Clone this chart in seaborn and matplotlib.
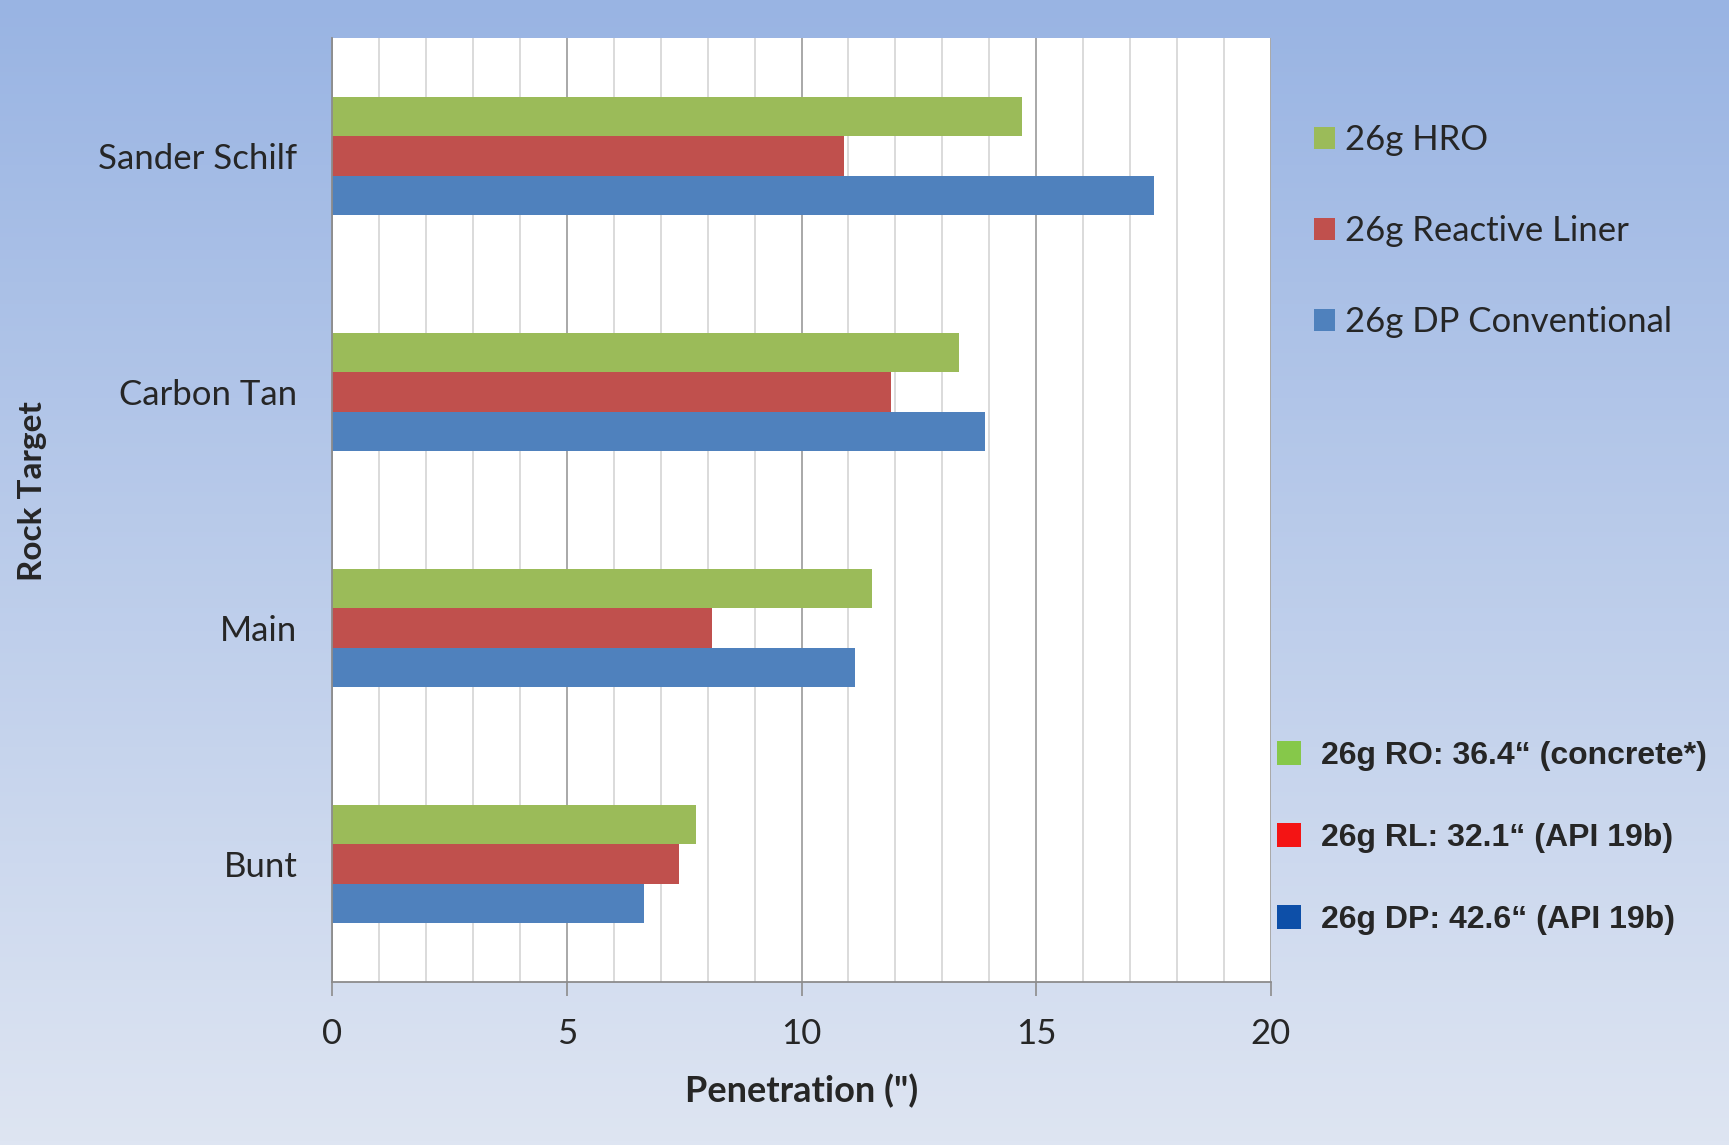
import numpy as np
import pandas as pd
import matplotlib
matplotlib.use("Agg")
import matplotlib.pyplot as plt
from matplotlib.patches import Patch
from matplotlib.ticker import MultipleLocator
import seaborn as sns

categories = ["Sander Schilf", "Carbon Tan", "Main", "Bunt"]
series = ["26g HRO", "26g Reactive Liner", "26g DP Conventional"]
hro = [14.7, 13.35, 11.5, 7.75]
reactive = [10.9, 11.9, 8.1, 7.4]
dp_conv = [17.5, 13.9, 11.15, 6.65]
colors = ["#9BBB59", "#C0504D", "#4F81BD"]

ref_labels = ["26g RO: 36.4\u201c (concrete*)", "26g RL: 32.1\u201c (API 19b)", "26g DP: 42.6\u201c (API 19b)"]
ref_colors = ["#86C84A", "#F41414", "#0D4FA8"]

df = pd.DataFrame({
    "Rock": categories * 3,
    "Series": [series[0]] * 4 + [series[1]] * 4 + [series[2]] * 4,
    "Penetration": hro + reactive + dp_conv,
})

sns.set_theme(style="white")
plt.rcParams["font.family"] = ["Lato", "DejaVu Sans"]

W, H = 1729, 1145
fig = plt.figure(figsize=(W / 100, H / 100), dpi=100)

# gradient background
bg = fig.add_axes([0, 0, 1, 1], zorder=-10)
top = np.array([153, 180, 227]) / 255
bot = np.array([222, 229, 242]) / 255
t = np.linspace(0, 1, 256)[:, None]
grad = top[None, :] * (1 - t) + bot[None, :] * t
bg.imshow(grad[:, None, :], aspect="auto", extent=[0, 1, 0, 1])
bg.set_axis_off()

L, R, T, B = 332, 1271, 38, 982
ax = fig.add_axes([L / W, 1 - B / H, (R - L) / W, (B - T) / H])
ax.set_facecolor("white")

sns.barplot(data=df, y="Rock", x="Penetration", hue="Series", hue_order=series,
            order=categories, palette=colors, width=0.5, orient="h",
            saturation=1, ax=ax, legend=True, edgecolor="none")

ax.set_xlim(0, 20)
ax.xaxis.set_major_locator(MultipleLocator(5))
ax.xaxis.set_minor_locator(MultipleLocator(1))
ax.set_axisbelow(True)
ax.grid(which="minor", axis="x", color="#D4D4D4", linewidth=1.2)
ax.grid(which="major", axis="x", color="#9A9A9A", linewidth=1.2)
for s in ["top", "right"]:
    ax.spines[s].set_visible(False)
for s in ["left", "bottom"]:
    ax.spines[s].set_color("#8C8C8C")
    ax.spines[s].set_linewidth(1.3)

ax.tick_params(axis="x", which="major", direction="out", length=10, width=1.2,
               color="#8C8C8C", pad=16, labelsize=25, bottom=True)
ax.tick_params(axis="x", which="minor", length=0)
ax.tick_params(axis="y", length=0, pad=25, labelsize=25)

ax.set_xlabel("Penetration (\")", fontsize=26, fontweight="bold")
ax.set_ylabel("Rock Target", fontsize=24, fontweight="bold")
ax.xaxis.set_label_coords(0.5, -0.097)
ax.yaxis.set_label_coords(-0.304, 0.52)

handles, labels = ax.get_legend_handles_labels()
ax.get_legend().remove()
fig.legend(handles, labels, loc="upper left", bbox_to_anchor=(1314 / W, 1 - 124 / H),
           frameon=False, fontsize=25, handlelength=0.6, handleheight=0.6,
           handletextpad=0.3, labelspacing=1.7, borderpad=0, borderaxespad=0)

ref_handles = [Patch(facecolor=c, edgecolor="none") for c in ref_colors]
fig.legend(ref_handles, ref_labels, loc="upper left", bbox_to_anchor=(1277 / W, 1 - 741 / H),
           frameon=False, prop={"family": "Liberation Sans", "weight": "bold", "size": 23},
           handlelength=0.75, handleheight=0.75, handletextpad=0.62,
           labelspacing=1.63, borderpad=0, borderaxespad=0)

fig.savefig("out.png", dpi=100)
